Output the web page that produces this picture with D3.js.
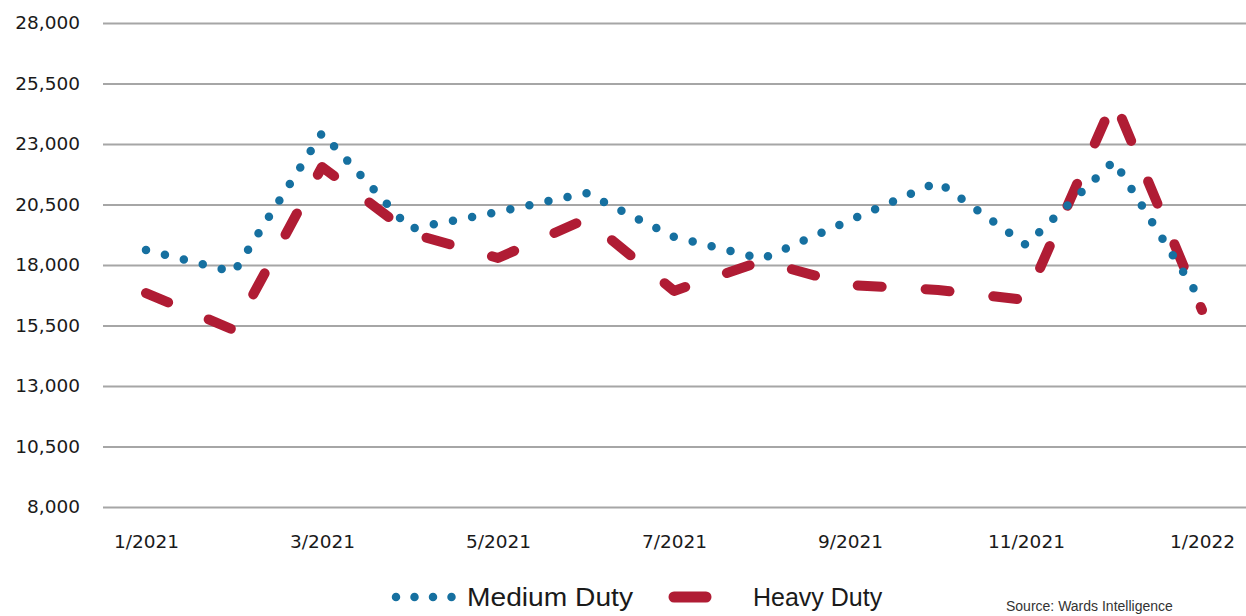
<!DOCTYPE html>
<html>
<head>
<meta charset="utf-8" />
<script src="https://d3js.org/d3.v7.min.js"></script>
<style>
  body { margin: 0; background: #fff; }
  svg { display: block; }
</style>
</head>
<body>
<script>
// monthly sales, Jan 2021 - Jan 2022
var months = ["1/2021","2/2021","3/2021","4/2021","5/2021","6/2021","7/2021",
              "8/2021","9/2021","10/2021","11/2021","12/2021","1/2022"];
var mediumDuty = [18620, 17710, 23450, 19490, 20190, 20975, 19160,
                  18250, 19850, 21430, 18830, 22300, 16470];
var heavyDuty  = [16840, 15310, 22050, 19320, 18290, 19900, 16930,
                  18160, 17170, 16970, 16550, 24820, 16140];
var yTicks = [8000, 10500, 13000, 15500, 18000, 20500, 23000, 25500, 28000];
var xTicks = ["1/2021","3/2021","5/2021","7/2021","9/2021","11/2021","1/2022"];

var w = 1246, h = 616;
var blue = "#1670a0", red = "#b01c34";

var svg = d3.select("body").append("svg")
    .attr("width", w).attr("height", h);

var x = d3.scalePoint().domain(months).range([146, 1202]);
var y = d3.scaleLinear().domain([8000, 28000]).range([507, 23]);

// gridlines + y labels
var yAxis = svg.append("g")
    .attr("transform", "translate(103,0)")
    .call(d3.axisLeft(y).tickValues(yTicks).tickFormat(d3.format(","))
        .tickSize(-(w - 103)).tickPadding(23));
yAxis.select(".domain").remove();
yAxis.selectAll(".tick line").attr("stroke", "#a6a6a6").attr("stroke-width", 2);
yAxis.selectAll(".tick text")
    .attr("fill", "#1a1a1a").style("font-family", "DejaVu Sans")
    .style("font-size", "18.5px");

// x labels
var xAxis = svg.append("g")
    .attr("transform", "translate(0,507)")
    .call(d3.axisBottom(x).tickValues(xTicks).tickSize(0).tickPadding(28));
xAxis.select(".domain").remove();
xAxis.selectAll(".tick text")
    .attr("fill", "#1a1a1a").style("font-family", "DejaVu Sans")
    .style("font-size", "18.5px");

var line = function(vals) {
  return d3.line()
    .x(function(d, i) { return x(months[i]); })
    .y(function(d) { return y(d); })(vals);
};

svg.append("path")
    .attr("d", line(heavyDuty))
    .attr("fill", "none").attr("stroke", red)
    .attr("stroke-width", 10).attr("stroke-linecap", "round")
    .attr("stroke-linejoin", "round")
    .attr("stroke-dasharray", "24,44");

svg.append("path")
    .attr("d", line(mediumDuty))
    .attr("fill", "none").attr("stroke", blue)
    .attr("stroke-width", 8.5).attr("stroke-linecap", "round")
    .attr("stroke-dasharray", "0,19.5");

// legend
var leg = svg.append("g").style("font-family", "Liberation Sans, Arial, sans-serif")
    .style("font-size", "25px").attr("fill", "#1a1a1a");
leg.append("line").attr("x1", 396).attr("x2", 452).attr("y1", 597).attr("y2", 597)
    .attr("stroke", blue).attr("stroke-width", 8.5).attr("stroke-linecap", "round")
    .attr("stroke-dasharray", "0,18.5");
leg.append("text").attr("x", 467).attr("y", 606)
    .attr("textLength", 166).attr("lengthAdjust", "spacingAndGlyphs")
    .text("Medium Duty");
leg.append("line").attr("x1", 674).attr("x2", 706).attr("y1", 597).attr("y2", 597)
    .attr("stroke", red).attr("stroke-width", 11).attr("stroke-linecap", "round");
leg.append("text").attr("x", 753).attr("y", 606).text("Heavy Duty");

svg.append("text").attr("x", 1006).attr("y", 611)
    .style("font-family", "Liberation Sans, Arial, sans-serif")
    .style("font-size", "14px").attr("fill", "#333")
    .text("Source: Wards Intelligence");
</script>
</body>
</html>
